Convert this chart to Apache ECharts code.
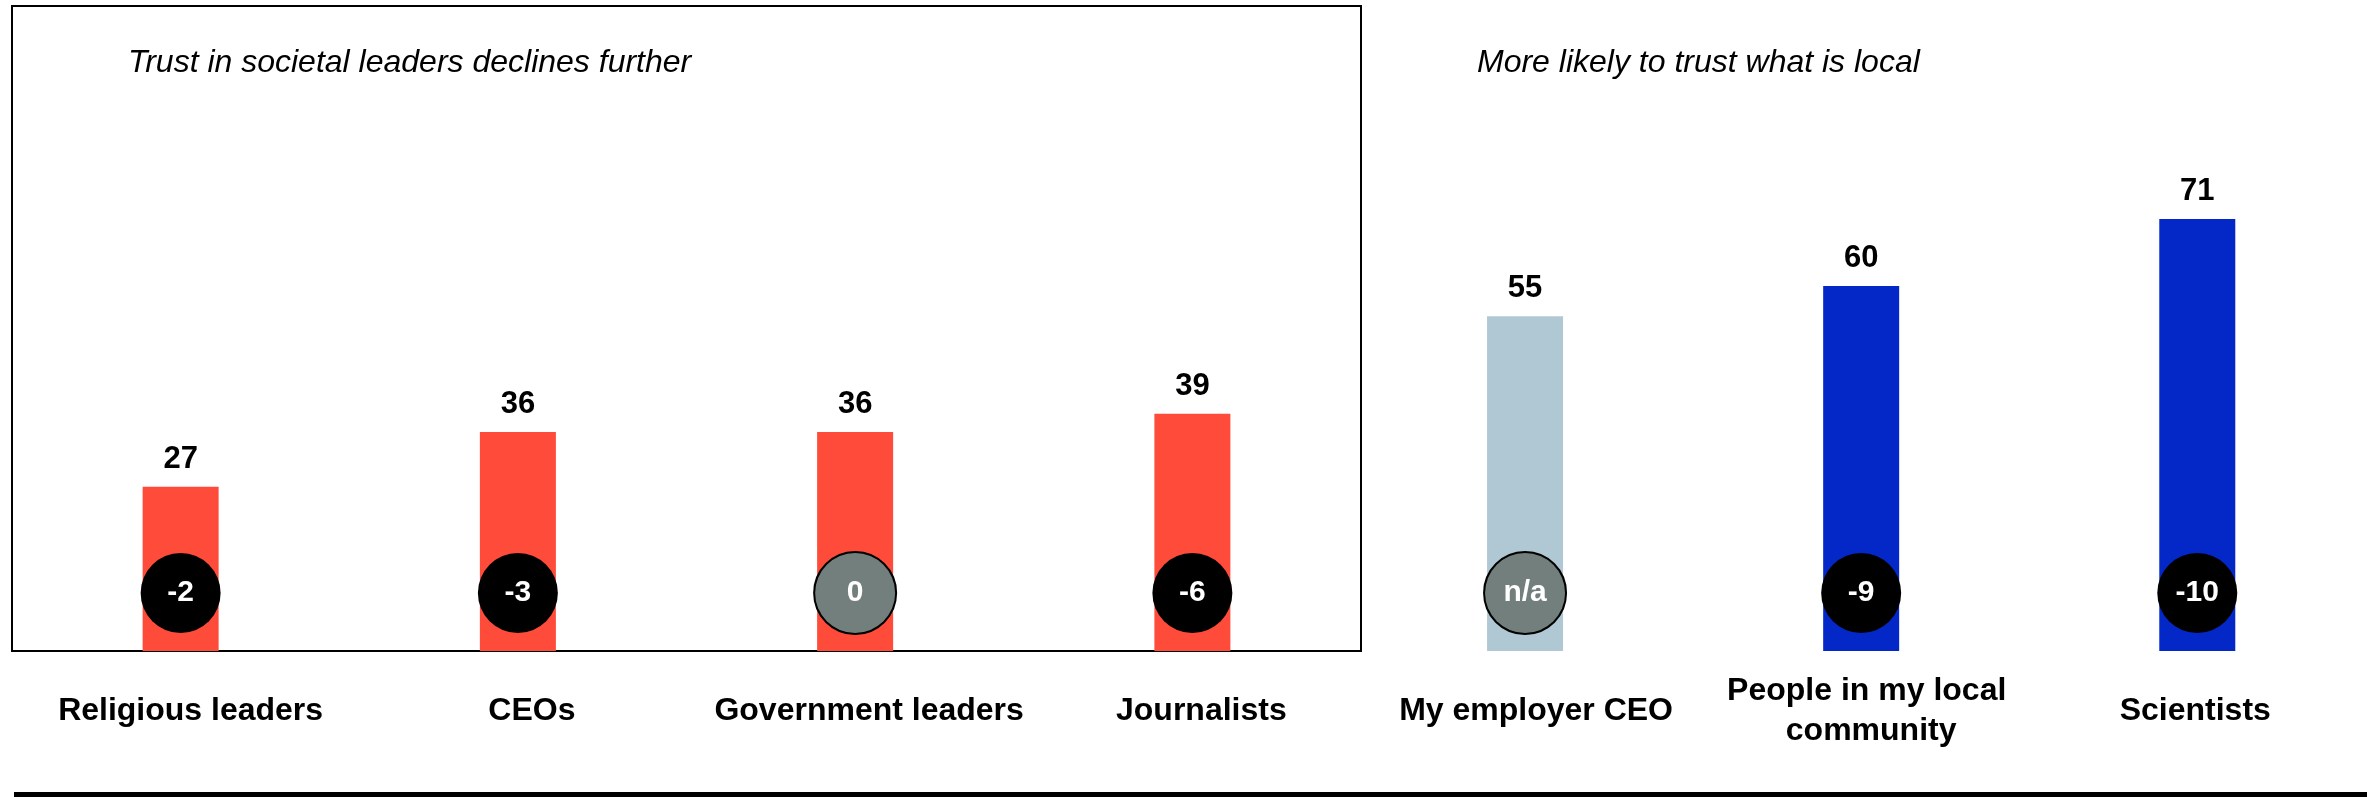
<!DOCTYPE html>
<html>
<head>
<meta charset="utf-8">
<script src="https://cdn.jsdelivr.net/npm/echarts@6/dist/echarts.min.js"></script>
<style>
  html, body { margin: 0; padding: 0; background: #fff; }
  #chart { width: 2367px; height: 797px; }
</style>
</head>
<body>
<div id="chart"></div>
<script>
// Trust in societal leaders (left panel)
const leaderCategories = ['Religious leaders', 'CEOs', 'Government leaders', 'Journalists'];
const leaderTrust = [27, 36, 36, 39];
const leaderChange = ['-2', '-3', '0', '-6'];

// Trust in what is local (right panel)
const localCategories = ['My employer CEO', 'People in my local community', 'Scientists'];
const localTrust = [55, 60, 71];
const localChange = ['n/a', '-9', '-10'];

const panelTitles = ['Trust in societal leaders declines further', 'More likely to trust what is local'];

// Horizontal nudge (px) of each category caption relative to its bar
const leaderLabelNudge = [10, 14, 14, 9];
const localLabelNudge = [11, 10, -2];

const FONT = '"Liberation Sans", Arial, Helvetica, sans-serif';
const RED = '#FF4B39';
const BLUE = '#0427C7';
const PALE = '#AFC8D3';
const GREY = '#737F7C';

function isNeutral(c) { return c === '0' || c === 'n/a'; }

function badgeItems(values, changes) {
  return values.map((v, i) => {
    const neutral = isNeutral(changes[i]);
    return {
      value: v,
      label: {
        formatter: changes[i],
        backgroundColor: neutral ? GREY : '#000',
        borderColor: '#000',
        borderWidth: neutral ? 2 : 0
      }
    };
  });
}

function barItems(values, changes, colorFn) {
  return values.map((v, i) => ({ value: v, itemStyle: { color: colorFn(i, changes[i]) } }));
}

function categoryItems(names, nudges) {
  return names.map((n, i) => {
    const s = nudges[i];
    return {
      value: n,
      textStyle: {
        verticalAlign: 'middle',
        padding: s >= 0 ? [0, 0, 0, 2 * s] : [0, -2 * s, 0, 0]
      }
    };
  });
}

const valueLabel = {
  show: true,
  position: 'top',
  distance: 12,
  fontFamily: FONT,
  fontWeight: 'bold',
  fontSize: 31,
  color: '#000'
};

const badgeLabel = {
  show: true,
  position: 'insideBottom',
  distance: 18,
  width: 80,
  height: 80,
  lineHeight: 80,
  borderRadius: 41,
  fontFamily: FONT,
  fontWeight: 'bold',
  fontSize: 30,
  color: '#fff'
};

const catLabel = {
  interval: 0,
  margin: 60,
  verticalAlign: 'middle',
  fontFamily: FONT,
  fontWeight: 'bold',
  fontSize: 32,
  lineHeight: 40,
  color: '#000',
  width: 330,
  overflow: 'break'
};

const Y_MAX = 106;

const titleStyle = { fontFamily: FONT, fontStyle: 'italic', fontWeight: 'normal', fontSize: 32, color: '#000' };

const chart = echarts.init(document.getElementById('chart'), null, { renderer: 'canvas' });

chart.setOption({
  animation: false,
  backgroundColor: '#fff',
  title: [
    { text: panelTitles[0], left: 128, top: 47, padding: 0, textStyle: titleStyle },
    { text: panelTitles[1], left: 1477, top: 47, padding: 0, textStyle: titleStyle }
  ],
  grid: [
    { left: 12, top: 6, width: 1349, height: 645, show: true, borderColor: '#000', borderWidth: 2, backgroundColor: 'transparent' },
    { left: 1357, top: 6, right: 0, height: 645 }
  ],
  xAxis: [
    { type: 'category', gridIndex: 0, data: categoryItems(leaderCategories, leaderLabelNudge), axisLine: { show: false }, axisTick: { show: false }, axisLabel: catLabel },
    { type: 'category', gridIndex: 1, data: categoryItems(localCategories, localLabelNudge), axisLine: { show: false }, axisTick: { show: false }, axisLabel: catLabel }
  ],
  yAxis: [
    { type: 'value', gridIndex: 0, min: 0, max: Y_MAX, show: false, splitLine: { show: false } },
    { type: 'value', gridIndex: 1, min: 0, max: Y_MAX, show: false, splitLine: { show: false } }
  ],
  series: [
    {
      type: 'bar', xAxisIndex: 0, yAxisIndex: 0, barWidth: 76, z: 2,
      data: barItems(leaderTrust, leaderChange, () => RED),
      label: valueLabel
    },
    {
      type: 'bar', xAxisIndex: 0, yAxisIndex: 0, barWidth: 76, barGap: '-100%', z: 3,
      itemStyle: { color: 'transparent' },
      data: badgeItems(leaderTrust, leaderChange),
      label: badgeLabel
    },
    {
      type: 'bar', xAxisIndex: 1, yAxisIndex: 1, barWidth: 76, z: 2,
      data: barItems(localTrust, localChange, (i, c) => (c === 'n/a' ? PALE : BLUE)),
      label: valueLabel
    },
    {
      type: 'bar', xAxisIndex: 1, yAxisIndex: 1, barWidth: 76, barGap: '-100%', z: 3,
      itemStyle: { color: 'transparent' },
      data: badgeItems(localTrust, localChange),
      label: badgeLabel
    }
  ],
  graphic: [
    {
      type: 'rect', left: 14, top: 792, z: 10,
      shape: { width: 2353, height: 5 },
      style: { fill: '#000' }
    }
  ]
});
</script>
</body>
</html>
